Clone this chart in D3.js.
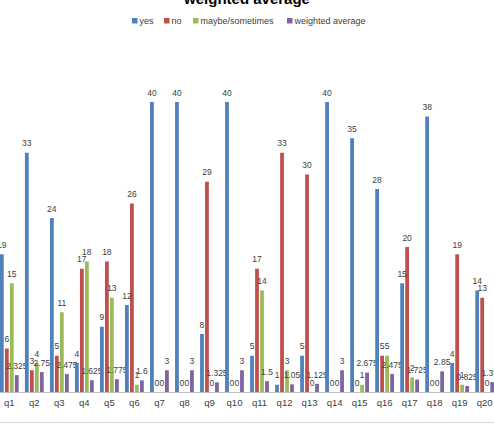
<!DOCTYPE html>
<html>
<head>
<meta charset="utf-8">
<script src="https://cdn.jsdelivr.net/npm/d3@7/dist/d3.min.js"></script>
<style>
  html, body { margin: 0; padding: 0; background: #fff; }
  svg { display: block; }
  text { font-family: "Liberation Sans", Arial, sans-serif; }
</style>
</head>
<body>
<svg id="chart" width="494" height="429"></svg>
<script>
const categories = ["q1","q2","q3","q4","q5","q6","q7","q8","q9","q10","q11","q12","q13","q14","q15","q16","q17","q18","q19","q20"];
const seriesNames = ["yes","no","maybe/sometimes","weighted average"];
const yesValues   = [19,33,24,4,9,12,40,40,8,40,5,1,5,40,35,28,15,38,4,14];
const noValues    = [6,3,5,17,18,26,0,0,29,0,17,33,30,0,0,5,20,0,19,13];
const maybeValues = [15,4,11,18,13,1,0,0,0,0,14,3,0,0,1,5,2,0,1,0];
const wavgValues  = [2.325,2.75,2.475,1.625,1.775,1.6,3,3,1.325,3,1.5,1.05,1.125,3,2.675,2.475,1.725,2.85,0.825,1.375];
const seriesColors = ["#4F81BD","#C0504D","#9BBB59","#8064A2"];
const titleText = "weighted average";

const seriesValues = [yesValues, noValues, maybeValues, wavgValues];
const svg = d3.select("#chart");
const W = 494, H = 429;

const baseY = 392, topY = 102;
const step = 25.02, firstCenter = 9.3;
const x0 = firstCenter - step / 2;
const x = d3.scaleBand().domain(categories).range([x0, x0 + step * categories.length]).padding(0);
const xi = d3.scaleBand().domain(seriesNames).range([0, x.bandwidth()]).paddingInner(0.24).paddingOuter(0.625);
const y = d3.scaleLinear().domain([0, 40]).range([baseY, topY]);

// chart frame bottom line
svg.append("line").attr("x1", 0).attr("x2", W).attr("y1", 422.5).attr("y2", 422.5)
  .attr("stroke", "#D4D4D4").attr("stroke-width", 1);

// title (cropped at top)
svg.append("text").attr("x", 247).attr("y", 4).attr("text-anchor", "middle")
  .attr("font-size", 15).attr("font-weight", "bold").attr("fill", "#000").text(titleText);

// legend
const legendX = [132, 164, 193, 287];
const lg = svg.append("g");
seriesNames.forEach((s, i) => {
  lg.append("rect").attr("x", legendX[i]).attr("y", 18).attr("width", 5.5).attr("height", 5.5).attr("fill", seriesColors[i]);
  lg.append("text").attr("x", legendX[i] + 7.5).attr("y", 24.3).attr("font-size", 9).attr("fill", "#404040").text(s);
});

// bars
const groups = svg.append("g").selectAll("g").data(categories).join("g")
  .attr("transform", d => `translate(${x(d)},0)`);

const rows = categories.map((c, ci) => seriesNames.map((s, si) => ({ c, s, si, v: seriesValues[si][ci] })));

groups.each(function(c, ci) {
  const g = d3.select(this);
  g.selectAll("rect").data(rows[ci]).join("rect")
    .attr("x", d => xi(d.s))
    .attr("y", d => y(d.v))
    .attr("width", xi.bandwidth())
    .attr("height", d => baseY - y(d.v))
    .attr("fill", d => seriesColors[d.si]);
  g.selectAll("text").data(rows[ci]).join("text")
    .attr("x", d => xi(d.s) + xi.bandwidth() / 2)
    .attr("y", d => y(d.v) - 6.3)
    .attr("text-anchor", "middle")
    .attr("font-size", 8.5)
    .attr("fill", "#404040")
    .text(d => String(d.v));
});

// baseline axis
const axis = d3.axisBottom(x).tickSize(0).tickPadding(7);
const ag = svg.append("g").attr("transform", `translate(0,${baseY})`).call(axis);
ag.select(".domain").attr("stroke", "#BFBFBF").attr("d", `M0,0.5H${W}`);
ag.selectAll("text").attr("font-size", 9.5).attr("fill", "#404040")
  .attr("font-family", "'Liberation Sans', Arial, sans-serif");
</script>
</body>
</html>
